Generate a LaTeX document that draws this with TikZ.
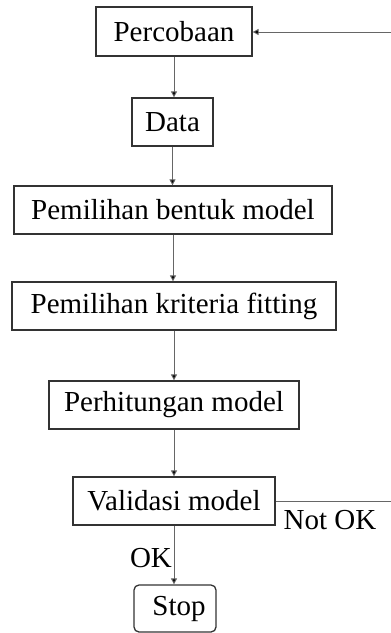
\documentclass[tikz,border=0pt]{standalone}
\usepackage{fontspec}
\setmainfont{Liberation Serif}
\usetikzlibrary{arrows.meta}
\begin{document}
\begin{tikzpicture}[x=1pt,y=-1pt,
  box/.style={draw=black!80,line width=1.3pt,inner sep=0pt,
    font=\fontsize{29}{34}\selectfont},
  arr/.style={draw=black!60,line width=0.9pt,
    -{Triangle[length=6pt,width=6pt,fill=black]}},
  plain/.style={draw=black!60,line width=0.9pt},
  lbl/.style={font=\fontsize{29}{34}\selectfont,inner sep=0pt}]
\useasboundingbox (0,0) rectangle (391,633);

% process steps
\node[box,minimum width=156pt,minimum height=49pt] (perc) at (174,31.5) {Percobaan};
\node[box,minimum width=81pt,minimum height=48pt] (data) at (172.5,122) {Data};
\node[box,minimum width=318pt,minimum height=48pt] (bentuk) at (173,210) {Pemilihan bentuk model};
\node[box,minimum width=324pt,minimum height=48pt] (kriteria) at (174,306) {Pemilihan kriteria fitting};
\node[box,minimum width=250pt,minimum height=48pt] (hitung) at (174,405) {Perhitungan model};
\node[box,minimum width=202pt,minimum height=48pt] (valid) at (174,501) {Validasi model};
\node[box,rounded corners=5pt,minimum width=82pt,minimum height=47pt] (stop) at (175,608.5) {\hspace*{8pt}Stop};

% feedback ends at the right margin
\coordinate (fbtop) at (391,32);
\coordinate (fbbot) at (391,501);

% main flow
\draw[arr] (perc.south) -- (perc.south |- data.north);
\draw[arr] (data.south) -- (data.south |- bentuk.north);
\draw[arr] (bentuk.south) -- (bentuk.south |- kriteria.north);
\draw[arr] (kriteria.south) -- (kriteria.south |- hitung.north);
\draw[arr] (hitung.south) -- (hitung.south |- valid.north);
\draw[arr] (valid.south) -- (valid.south |- stop.north);

% feedback loop
\draw[plain] (valid.east) -- (fbbot);
\draw[arr] (fbtop) -- (perc.east |- fbtop);

% branch labels
\node[lbl] (notok) at (330,520) {Not OK};
\node[lbl] (ok) at (151,558) {OK};
\end{tikzpicture}
\end{document}
